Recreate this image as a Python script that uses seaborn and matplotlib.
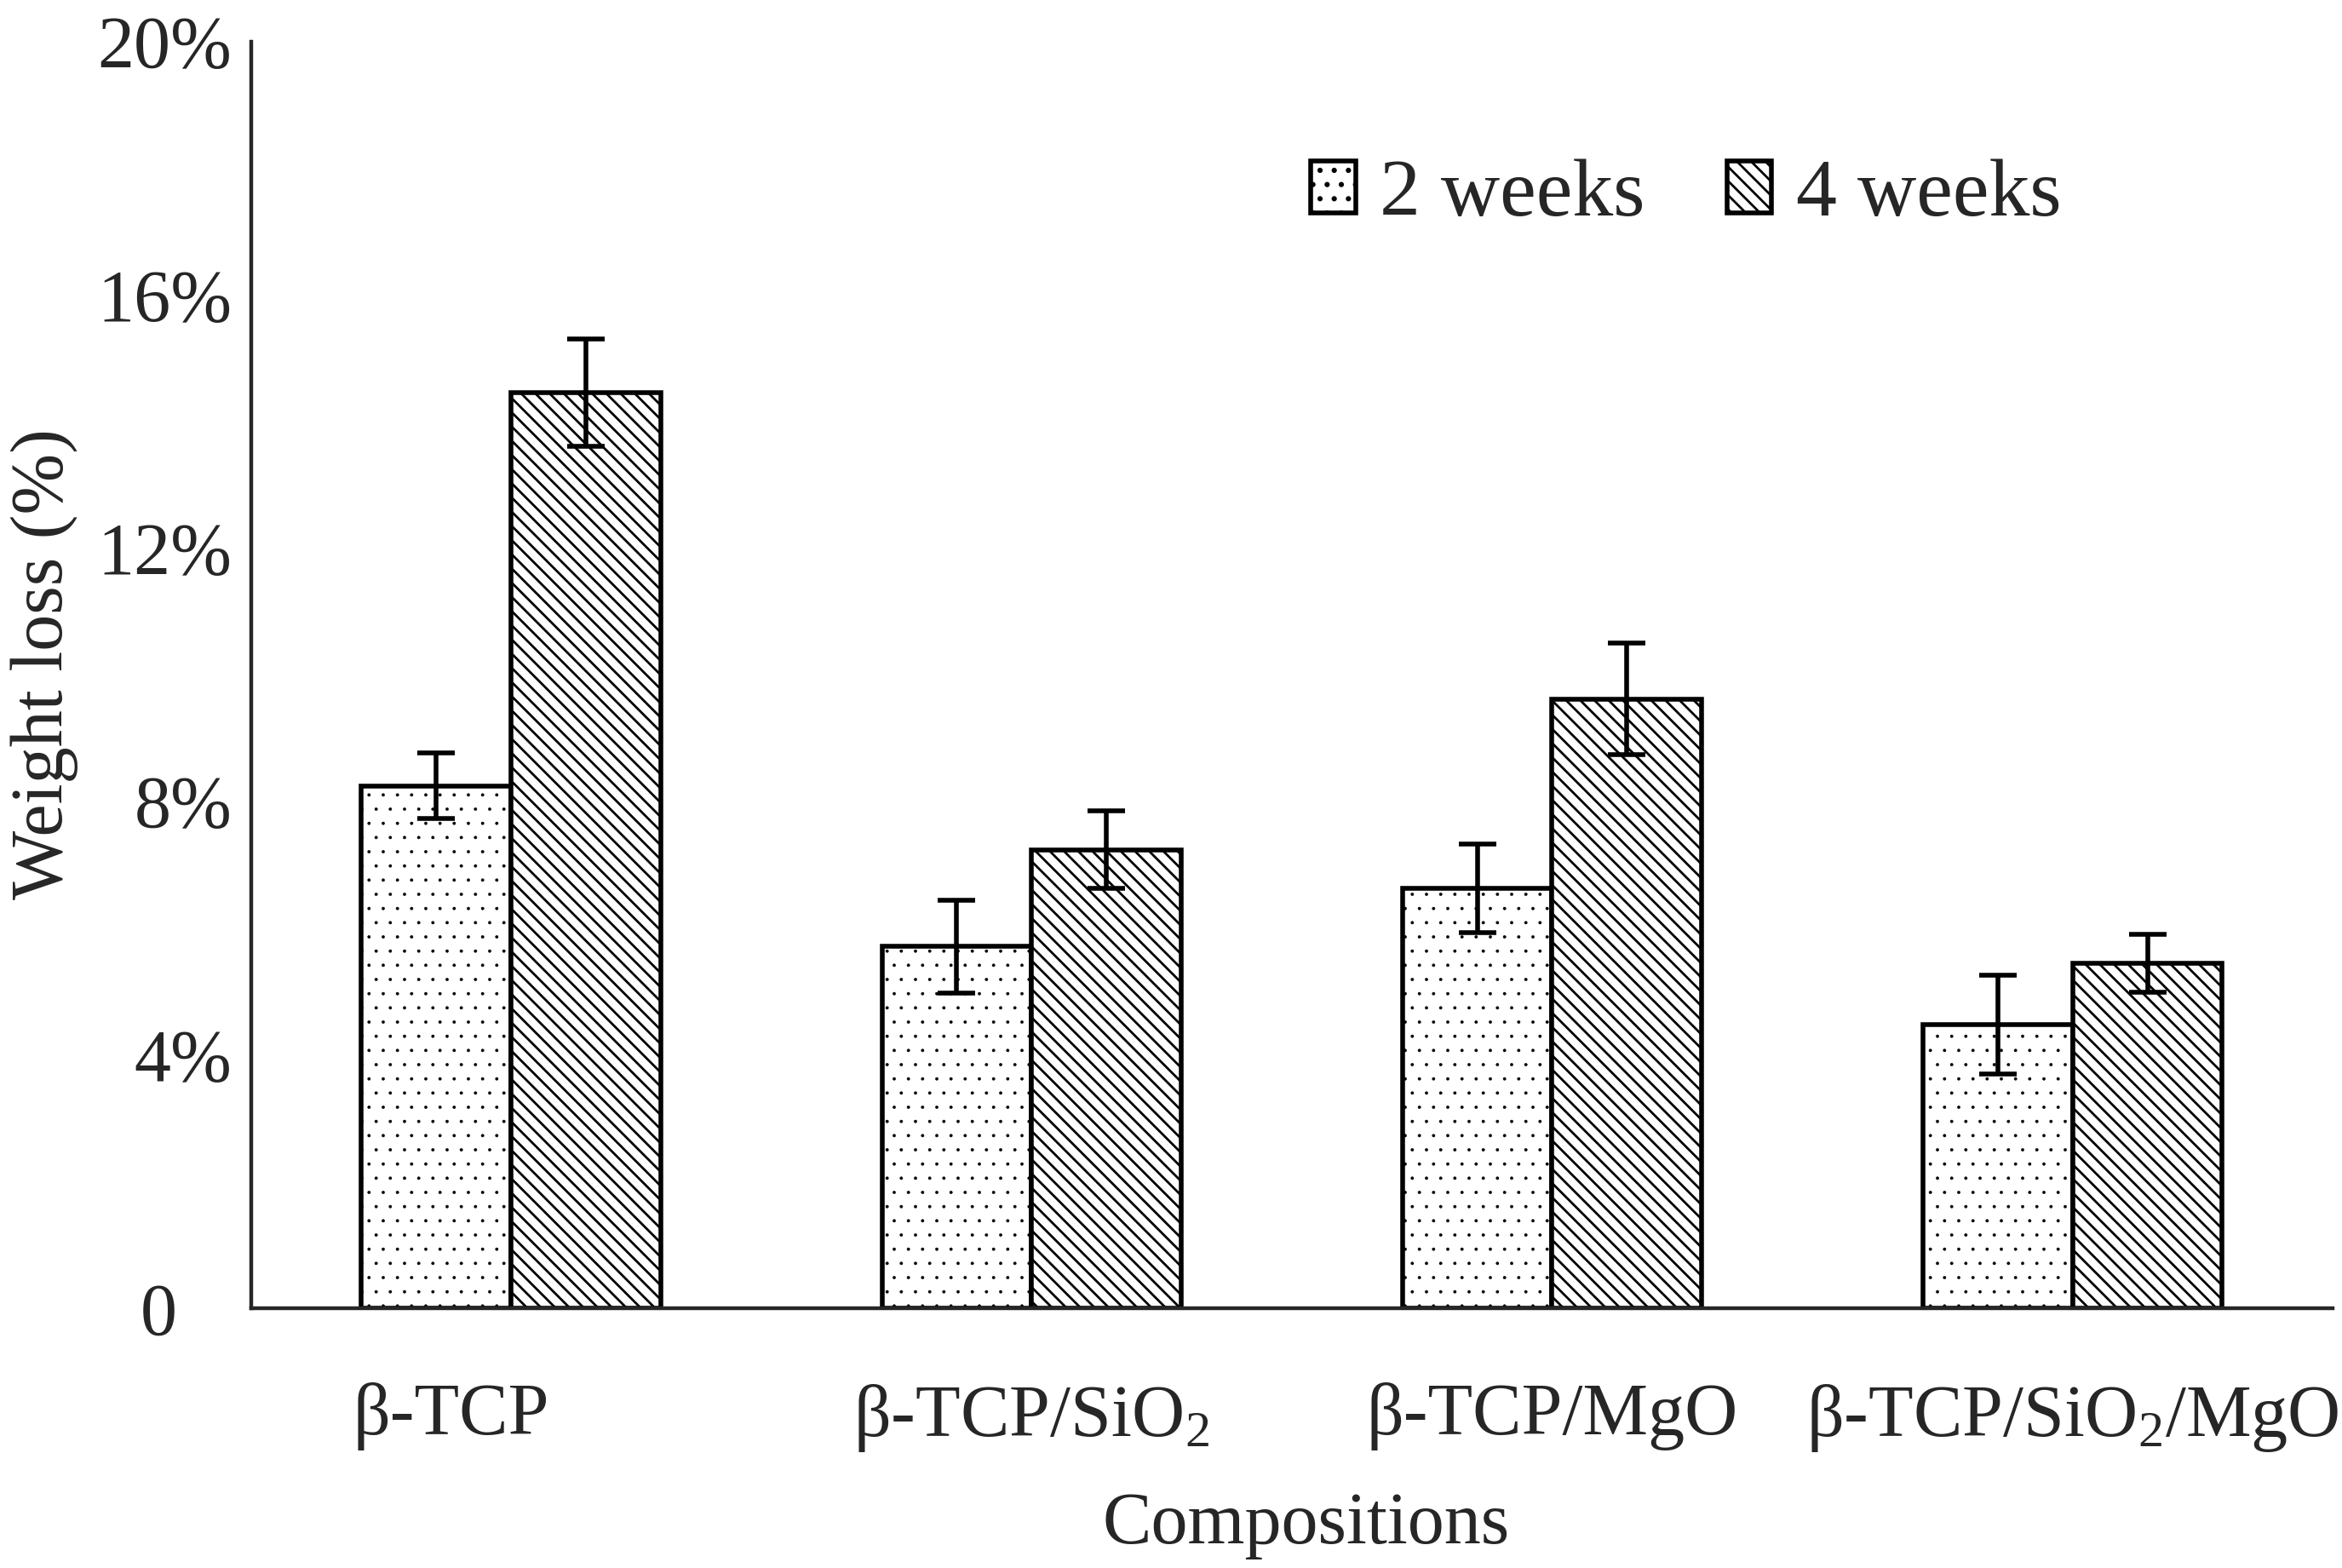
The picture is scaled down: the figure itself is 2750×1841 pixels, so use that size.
import matplotlib
matplotlib.use("Agg")
import matplotlib.pyplot as plt
from matplotlib.ticker import FuncFormatter
from matplotlib.transforms import ScaledTranslation
import pandas as pd
import seaborn as sns

compositions = ['β-TCP', 'β-TCP/SiO$_2$', 'β-TCP/MgO', 'β-TCP/SiO$_2$/MgO']
periods = ['2 weeks', '4 weeks']
loss_2wk = [8.25, 5.71, 6.63, 4.48]
loss_4wk = [14.46, 7.24, 9.62, 5.45]
err_2wk = [0.52, 0.73, 0.70, 0.78]
err_4wk = [0.85, 0.61, 0.88, 0.46]
y_ticks = [0, 4, 8, 12, 16, 20]

df = pd.DataFrame({
    'composition': compositions * 2,
    'time': [periods[0]] * 4 + [periods[1]] * 4,
    'loss': loss_2wk + loss_4wk,
})

sns.set_style('white')
plt.rcParams['font.family'] = ['Liberation Serif', 'DejaVu Serif']
plt.rcParams['mathtext.fontset'] = 'custom'
plt.rcParams['mathtext.rm'] = 'Liberation Serif'
plt.rcParams['mathtext.it'] = 'Liberation Serif:italic'
plt.rcParams['hatch.linewidth'] = 2.0
plt.rcParams['axes.linewidth'] = 3.2

fig = plt.figure(figsize=(27.5, 18.41), dpi=100)
ax = fig.add_axes([0.1071, 0.1657, 0.889, 0.8076])

sns.barplot(data=df, x='composition', y='loss', hue='time', order=compositions,
            hue_order=periods, palette=['white', 'white'], width=0.575,
            errorbar=None, edgecolor='black', linewidth=4, saturation=1,
            legend=False, ax=ax)

bar_conts = list(ax.containers)
hatches = ['.', '\\\\']
hatch_lw = [0.3, 2.0]
errs = [err_2wk, err_4wk]
means = [loss_2wk, loss_4wk]
for cont, h, hl, m, e in zip(bar_conts, hatches, hatch_lw, means, errs):
    for p in cont.patches:
        p.set_hatch(h)
        if hasattr(p, 'set_hatch_linewidth'):
            p.set_hatch_linewidth(hl)
    xs = [p.get_x() + p.get_width() / 2 for p in cont.patches]
    ax.errorbar(xs, m, yerr=e, fmt='none', ecolor='black', elinewidth=4,
                capsize=16, capthick=4, zorder=5)

ax.set_xlim(-0.5, 3.5)
ax.set_ylim(0, 20)
ax.set_yticks(y_ticks)
ax.yaxis.set_major_formatter(FuncFormatter(lambda v, pos: '0' if v == 0 else f'{v:.0f}%'))
ax.tick_params(axis='y', direction='in', length=14, width=3.5, pad=16, labelsize=62)

ax.set_xticks(range(len(compositions)))
ax.set_xticklabels(compositions)
ax.set_xticks([0.5, 1.5, 2.5, 3.5], minor=True)
ax.tick_params(axis='x', which='major', length=0, pad=63, labelsize=62)
ax.tick_params(axis='x', which='minor', direction='in', length=14, width=3.5)

# small offsets seen in the original
lbl = ax.get_xticklabels()[0]
lbl.set_transform(lbl.get_transform() + ScaledTranslation(-0.7, 0, fig.dpi_scale_trans))
zl = ax.get_yticklabels()[0]
zl.set_transform(zl.get_transform() + ScaledTranslation(-0.65, 0, fig.dpi_scale_trans))

sns.despine(ax=ax)

ax.set_xlabel('Compositions', fontsize=62)
ax.xaxis.set_label_coords(0.507, -0.145)
ax.set_ylabel('Weight loss (%)', fontsize=62)
ax.yaxis.set_label_coords(-0.083, 0.509)

handles = [cont.patches[0] for cont in bar_conts]
ax.legend(handles, periods, ncol=2, frameon=False, loc='center left',
          bbox_to_anchor=(0.509, 0.8785), borderpad=0, borderaxespad=0,
          handlelength=0.55, handleheight=0.6, handletextpad=0.3,
          columnspacing=1.0, fontsize=69)

fig.savefig('out.png', dpi=100, facecolor='white')
